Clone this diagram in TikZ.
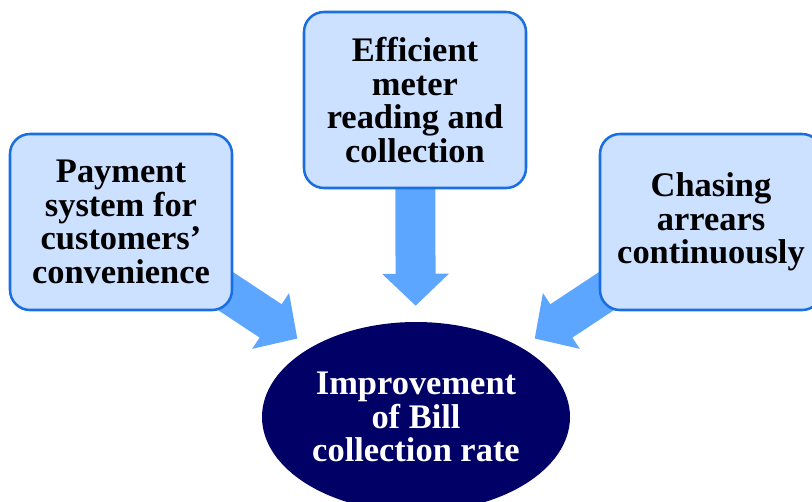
\documentclass[tikz,border=0pt]{standalone}
\usepackage{fontspec}
\setmainfont{Liberation Serif}
\usetikzlibrary{arrows.meta,shapes.geometric,backgrounds}
\definecolor{boxfill}{HTML}{CCE0FF}
\definecolor{boxline}{HTML}{1A6FE0}
\definecolor{arrowblue}{HTML}{5CA6FF}
\definecolor{goalnavy}{HTML}{000066}

\begin{document}
\begin{tikzpicture}[
    factor/.style={draw=boxline,line width=1.8pt,rounded corners=0.5cm,fill=boxfill,minimum width=5.55cm,minimum height=4.4cm,align=center,font=\fontsize{24.5}{24}\selectfont\bfseries},
    goal/.style={ellipse,fill=goalnavy,minimum width=7.7cm,minimum height=4.75cm,align=center,text=white,font=\fontsize{24.5}{24}\selectfont\bfseries},
    bigarrow/.style={arrowblue,line width=1cm,shorten >=0.4cm,-{Triangle[length=0.8cm,width=1.625cm]}}
]
    \useasboundingbox (0,0) rectangle (20.3,-12.525);
    % Top row: the three measures
    \node[factor] (payment) at (3.025,-5.55) {
        Payment\\system for\\customers’\\convenience
    };
    \node[factor] (meter) at (10.375,-2.5) {
        Efficient\\meter\\reading and\\collection
    };
    \node[factor] (arrears) at (17.775,-5.55) {
        Chasing\\arrears\\continuously
    };
    % Bottom: the aim
    \node[goal] (billrate) at (10.4,-10.425) {
        Improvement\\of Bill\\collection rate
    };
    % Arrows
    \begin{scope}[on background layer]
        \draw[bigarrow] (payment.center) -- (billrate);
        \draw[bigarrow] (meter.center) -- (billrate);
        \draw[bigarrow] (arrears.center) -- (billrate);
    \end{scope}
\end{tikzpicture}
\end{document}
